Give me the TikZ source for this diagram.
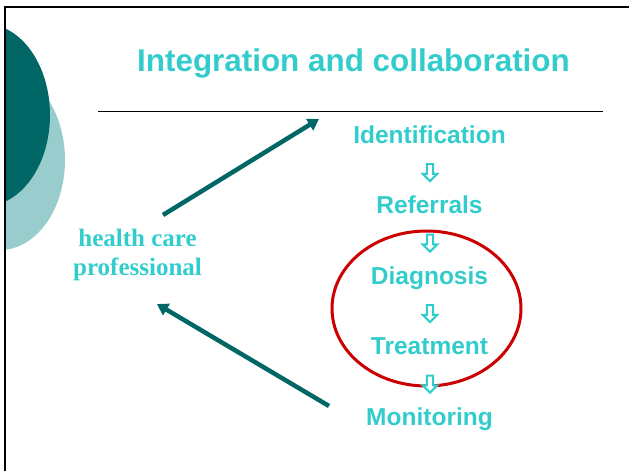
\documentclass[tikz,border=0pt]{standalone}
\usepackage{fontspec}
\setmainfont{Liberation Serif}
\setsansfont{Liberation Sans}
\usetikzlibrary{positioning}
\usetikzlibrary{arrows.meta}
\usetikzlibrary{shapes.arrows}

\definecolor{slideteal}{RGB}{0,102,102}
\definecolor{slidemint}{RGB}{153,204,204}
\definecolor{slidecyan}{RGB}{51,204,204}
\definecolor{slidered}{RGB}{204,0,0}

\tikzset{
	steptxt/.style={text=slidecyan,font=\sffamily\bfseries\fontsize{24.5}{28}\selectfont,inner sep=0pt,outer sep=0pt},
	downarr/.style={single arrow,shape border rotate=270,draw=slidecyan,fill=white,line width=2pt,minimum height=17pt,minimum width=12pt,single arrow head extend=4pt,inner sep=2.2pt},
	bigarr/.style={-{Triangle[length=11pt,width=13pt]},line width=4.5pt,draw=slideteal},
}

\begin{document}
\begin{tikzpicture}[x=1pt,y=-1pt]
	\useasboundingbox (0,0) rectangle (629,471);
	\begin{scope}
		\clip (5,0) rectangle (629,471);
		\fill[slidemint] (0,160) ellipse [x radius=65pt,y radius=90pt];
		\fill[slideteal] (-15,115) ellipse [x radius=65pt,y radius=91pt];
	\end{scope}
	\draw[line width=2.2pt] (629,7) -- (5.3,7) -- (5.3,471);

	\node [text=slidecyan,font=\sffamily\bfseries\fontsize{31.4}{36}\selectfont,anchor=base,inner sep=0pt] at (353.5,71) (title_txt) {Integration and collaboration};
	\draw[line width=1pt] (98,111) -- (603,111);

	\draw[slidered,line width=3pt] (426.5,308.5) ellipse [x radius=94.5pt,y radius=77.5pt];

	\node [steptxt,anchor=base] at (429.5,143.3) (ident_txt) {Identification};
	\node [steptxt,below=70.5pt of ident_txt.base,anchor=base] (refer_txt) {Referrals};
	\node [steptxt,below=70.5pt of refer_txt.base,anchor=base] (diag_txt) {Diagnosis};
	\node [steptxt,below=70.5pt of diag_txt.base,anchor=base] (treat_txt) {Treatment};
	\node [steptxt,below=70.5pt of treat_txt.base,anchor=base] (monit_txt) {Monitoring};

	\foreach \y [count=\i] in {171,241.5,312,382.5}
		\node [downarr] at (430,\y) (step_arr\i) {};

	\node [text=slidecyan,font=\rmfamily\bfseries\fontsize{25}{29}\selectfont,align=center,anchor=base,inner sep=0pt] at (137.5,275.5) (hcp_txt) {health care\\professional};

	\coordinate (hcp_out) at (163,215);
	\coordinate (ident_in) at (319,119);
	\coordinate (monit_out) at (329,406);
	\coordinate (hcp_in) at (157,304);
	\draw[bigarr] (hcp_out) -- (ident_in);
	\draw[bigarr] (monit_out) -- (hcp_in);
\end{tikzpicture}
\end{document}
